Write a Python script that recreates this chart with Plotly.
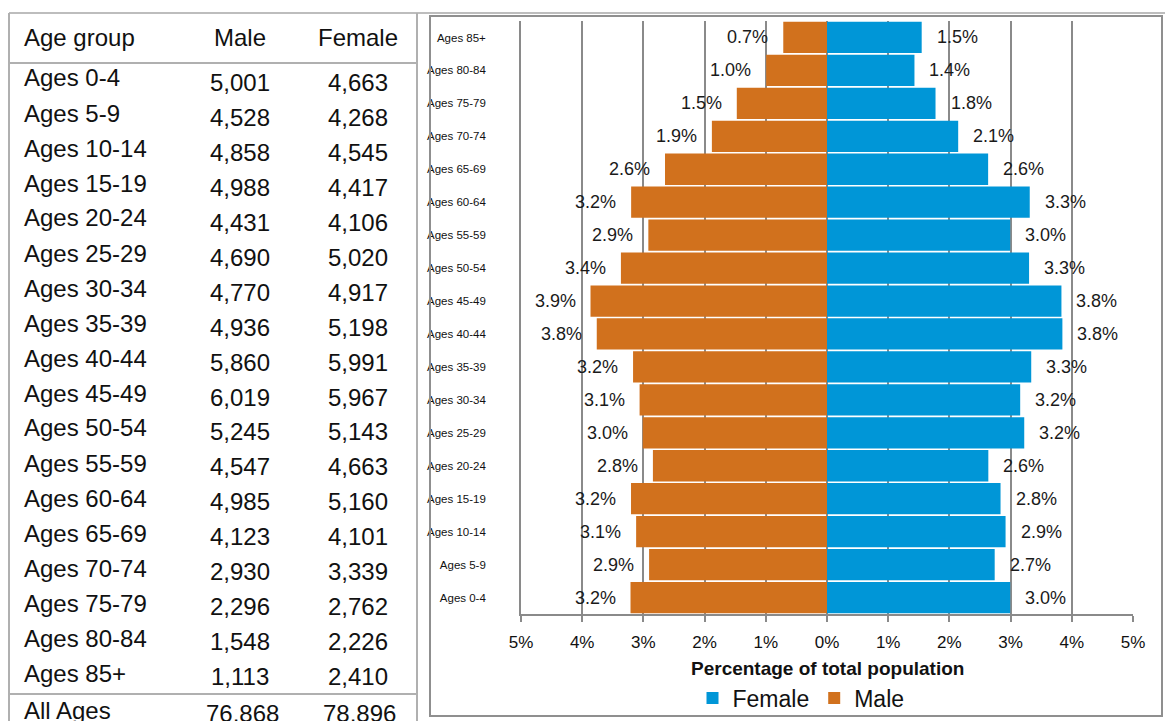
import plotly.graph_objects as go

# ---------------- data ----------------
age_groups = ["Ages 0-4", "Ages 5-9", "Ages 10-14", "Ages 15-19", "Ages 20-24",
              "Ages 25-29", "Ages 30-34", "Ages 35-39", "Ages 40-44", "Ages 45-49",
              "Ages 50-54", "Ages 55-59", "Ages 60-64", "Ages 65-69", "Ages 70-74",
              "Ages 75-79", "Ages 80-84", "Ages 85+"]
male = [5001, 4528, 4858, 4988, 4431, 4690, 4770, 4936, 5860, 6019,
        5245, 4547, 4985, 4123, 2930, 2296, 1548, 1113]
female = [4663, 4268, 4545, 4417, 4106, 5020, 4917, 5198, 5991, 5967,
          5143, 4663, 5160, 4101, 3339, 2762, 2226, 2410]
male_total = 76868
female_total = 78896
x_tickvals = [-5, -4, -3, -2, -1, 0, 1, 2, 3, 4, 5]
x_ticktext = ["5%", "4%", "3%", "2%", "1%", "0%", "1%", "2%", "3%", "4%", "5%"]

grand_total = male_total + female_total
male_pct = [m / grand_total * 100 for m in male]
female_pct = [f / grand_total * 100 for f in female]

W, H = 1165, 721
ORANGE = "#D1711D"
BLUE = "#0096D7"
FONT = "Liberation Sans, Arial, sans-serif"


def px(x):
    return x / W


def py(y):
    return 1 - y / H


fig = go.Figure()
fig.add_trace(go.Bar(
    y=age_groups, x=female_pct, orientation="h", name="Female",
    marker=dict(color=BLUE, line=dict(width=0)), hoverinfo="skip"))
fig.add_trace(go.Bar(
    y=age_groups, x=[-v for v in male_pct], orientation="h", name="Male",
    marker=dict(color=ORANGE, line=dict(width=0)), hoverinfo="skip"))

annotations = []
# data labels
for g, mp, fp in zip(age_groups, male_pct, female_pct):
    annotations.append(dict(x=fp, y=g, xref="x", yref="y", text=f"{fp:.1f}%",
                            showarrow=False, xanchor="left", xshift=13,
                            font=dict(family=FONT, size=18, color="#1a1a1a")))
    annotations.append(dict(x=-mp, y=g, xref="x", yref="y", text=f"{mp:.1f}%",
                            showarrow=False, xanchor="right", xshift=-13,
                            font=dict(family=FONT, size=18, color="#1a1a1a")))

# axis title
annotations.append(dict(x=px(828), y=py(668), xref="paper", yref="paper",
                        text="<b>Percentage of total population</b>", showarrow=False,
                        xanchor="center", yanchor="middle",
                        font=dict(family=FONT, size=19, color="#111")))

# table
tfont = dict(family=FONT, size=24, color="#111")
annotations.append(dict(x=px(22), y=py(38), xref="paper", yref="paper", text="Age group",
                        showarrow=False, xanchor="left", yanchor="middle", font=tfont))
annotations.append(dict(x=px(240), y=py(38), xref="paper", yref="paper", text="Male",
                        showarrow=False, xanchor="center", yanchor="middle", font=tfont))
annotations.append(dict(x=px(358), y=py(38), xref="paper", yref="paper", text="Female",
                        showarrow=False, xanchor="center", yanchor="middle", font=tfont))
for i, (g, m, f) in enumerate(zip(age_groups, male, female)):
    ly = 78 + 35.0 * i
    vy = 83 + 34.9 * i
    annotations.append(dict(x=px(22), y=py(ly), xref="paper", yref="paper", text=g,
                            showarrow=False, xanchor="left", yanchor="middle", font=tfont))
    annotations.append(dict(x=px(240), y=py(vy), xref="paper", yref="paper", text=f"{m:,}",
                            showarrow=False, xanchor="center", yanchor="middle", font=tfont))
    annotations.append(dict(x=px(358), y=py(vy), xref="paper", yref="paper", text=f"{f:,}",
                            showarrow=False, xanchor="center", yanchor="middle", font=tfont))
annotations.append(dict(x=px(22), y=py(710), xref="paper", yref="paper", text="All Ages",
                        showarrow=False, xanchor="left", yanchor="middle", font=tfont))
annotations.append(dict(x=px(242), y=py(713), xref="paper", yref="paper", text=f"{male_total:,}",
                        showarrow=False, xanchor="center", yanchor="middle", font=tfont))
annotations.append(dict(x=px(359), y=py(713), xref="paper", yref="paper", text=f"{female_total:,}",
                        showarrow=False, xanchor="center", yanchor="middle", font=tfont))

shapes = [
    # top line across
    dict(type="line", xref="paper", yref="paper", x0=px(9), x1=1, y0=py(13), y1=py(13),
         line=dict(color="#bdbdbd", width=2)),
    # table borders
    dict(type="line", xref="paper", yref="paper", x0=px(9), x1=px(9), y0=py(13), y1=-0.01,
         line=dict(color="#b0b0b0", width=2)),
    dict(type="line", xref="paper", yref="paper", x0=px(417), x1=px(417), y0=py(13), y1=-0.01,
         line=dict(color="#b0b0b0", width=2)),
    dict(type="line", xref="paper", yref="paper", x0=px(9), x1=px(417), y0=py(63), y1=py(63),
         line=dict(color="#b0b0b0", width=2)),
    dict(type="line", xref="paper", yref="paper", x0=px(9), x1=px(417), y0=py(694), y1=py(694),
         line=dict(color="#b0b0b0", width=2)),
    # chart frame
    dict(type="rect", xref="paper", yref="paper", x0=px(430), x1=px(1162), y0=py(716), y1=py(16),
         line=dict(color="#8f8f8f", width=2)),
]

fig.update_layout(
    width=W, height=H,
    margin=dict(l=0, r=0, t=0, b=0, pad=0, autoexpand=False),
    paper_bgcolor="white", plot_bgcolor="white",
    barmode="relative", bargap=0.05,
    font=dict(family=FONT, color="#111"),
    showlegend=True,
    legend=dict(orientation="h", x=px(801), y=py(698), xanchor="center", yanchor="middle",
                font=dict(family=FONT, size=23, color="#111"), traceorder="normal",
                itemwidth=30, bgcolor="rgba(0,0,0,0)"),
    xaxis=dict(domain=[px(521), px(1133)], range=[-5, 5], tickvals=x_tickvals,
               ticktext=x_ticktext, showgrid=True, gridcolor="#8a8a8a", gridwidth=1.7,
               zeroline=False, showline=True, linecolor="#8a8a8a", linewidth=1.7,
               ticks="outside", ticklen=6, tickwidth=1.7, tickcolor="#8a8a8a",
               tickfont=dict(family=FONT, size=17, color="#111"), ticklabelstandoff=6,
               automargin=False, fixedrange=True),
    yaxis=dict(domain=[py(614), py(21)], type="category", showgrid=False,
               showline=True, linecolor="#8a8a8a", linewidth=1.7, ticks="",
               tickfont=dict(family=FONT, size=11.5, color="#111"), ticklabelstandoff=31,
               automargin=False, fixedrange=True),
    annotations=annotations,
    shapes=shapes,
)

fig.write_html("out.html", include_plotlyjs=True,
               post_script="document.body.style.margin='0';",
               config={"displayModeBar": False})
